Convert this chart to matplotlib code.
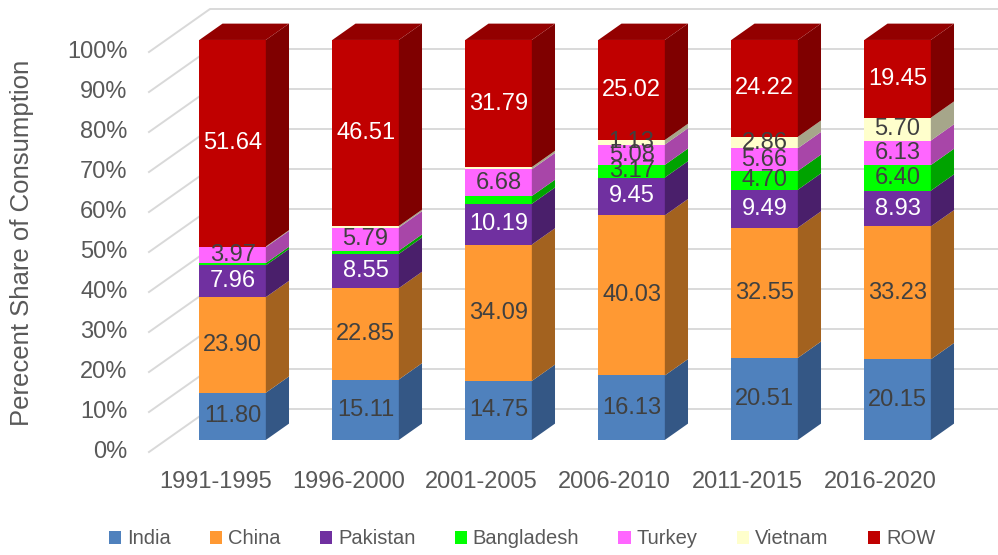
import numpy as np
import matplotlib
matplotlib.use("Agg")
import matplotlib.pyplot as plt
from matplotlib.patches import Polygon, Patch

plt.rcParams['font.family'] = ['Liberation Sans', 'DejaVu Sans']

periods = ['1991-1995', '1996-2000', '2001-2005', '2006-2010', '2011-2015', '2016-2020']
countries = ['India', 'China', 'Pakistan', 'Bangladesh', 'Turkey', 'Vietnam', 'ROW']

india = [11.80, 15.11, 14.75, 16.13, 20.51, 20.15]
china = [23.90, 22.85, 34.09, 40.03, 32.55, 33.23]
pakistan = [7.96, 8.55, 10.19, 9.45, 9.49, 8.93]
bangladesh = [0.55, 0.80, 1.95, 3.17, 4.70, 6.40]
turkey = [3.97, 5.79, 6.68, 5.08, 5.66, 6.13]
vietnam = [0.18, 0.39, 0.55, 1.13, 2.86, 5.70]
row = [51.64, 46.51, 31.79, 25.02, 24.22, 19.45]

# (series, period) pairs without a data label in the original
hidden_labels = [(3, 0), (3, 1), (3, 2), (5, 0), (5, 1), (5, 2)]

front_cols = ['#4F81BD', '#FF9933', '#7030A0', '#00FF00', '#FF66FF', '#FFFFCC', '#C00000']
side_cols = ['#345785', '#A3621F', '#4A1F6B', '#00A300', '#A846A8', '#A6A68A', '#7F0000']
top_col = '#930000'
label_cols = ['#404040', '#404040', 'white', '#404040', '#404040', '#404040', 'white']

series = [india, china, pakistan, bangladesh, turkey, vietnam, row]
data = np.array(series)
data = data / data.sum(axis=0) * 100  # 100% stacked

# oblique "3d" offsets (category units, percent units)
DX, DY = 0.4586, 10.75
Z0, Z1 = 0.28, 0.66
W = 0.5

def proj(x, v, z):
    return (x + z * DX, v + z * DY)

fig = plt.figure(figsize=(9.98, 5.55), dpi=100)
ax = fig.add_axes([0, 0, 1, 1])
ax.set_xlim(-149 / 133, (998 - 149) / 133)
ax.set_ylim(-25.75, 113)
ax.axis('off')

grid = '#D9D9D9'
for v in range(0, 101, 10):
    p0 = proj(0, v, 0)
    p1 = proj(0, v, 1)
    ax.plot([p0[0], p1[0], 10], [p0[1], p1[1], p1[1]], color=grid, lw=1.4, zorder=0)
    ax.text(-0.16, v, f'{v}%', ha='right', va='center', fontsize=17, color='#595959')

n = len(periods)
for i in range(n):
    x0 = i + 0.5 - W / 2
    x1 = i + 0.5 + W / 2
    bottom = 0
    for k in range(len(countries)):
        val = data[k, i]
        top = bottom + val
        # front face
        fx0, fb = proj(x0, bottom, Z0)
        fx1, ft = proj(x1, top, Z0)
        ax.add_patch(Polygon([(fx0, fb), (fx1, fb), (fx1, ft), (fx0, ft)],
                             closed=True, fc=front_cols[k], ec='none', zorder=2))
        # right side face
        side = [proj(x1, bottom, Z0), proj(x1, bottom, Z1), proj(x1, top, Z1), proj(x1, top, Z0)]
        ax.add_patch(Polygon(side, closed=True, fc=side_cols[k], ec='none', zorder=2))
        if k == len(countries) - 1:
            tp = [proj(x0, top, Z0), proj(x1, top, Z0), proj(x1, top, Z1), proj(x0, top, Z1)]
            ax.add_patch(Polygon(tp, closed=True, fc=top_col, ec='none', zorder=2))
        if (k, i) not in hidden_labels:
            cx, cy = proj((x0 + x1) / 2, (bottom + top) / 2, Z0)
            ax.text(cx, cy, f'{series[k][i]:.2f}', ha='center', va='center',
                    fontsize=17, color=label_cols[k], zorder=3)
        bottom = top
    ax.text(i + 0.5, -7.5, periods[i], ha='center', va='center', fontsize=17, color='#595959')

ax.text(-0.955, 52.25, 'Perecent Share of Consumption', rotation=90, ha='center', va='center',
        fontsize=18.5, color='#595959')

handles = [Patch(fc=c, ec='none') for c in front_cols]
fig.legend(handles, countries, loc='center', bbox_to_anchor=(0.523, 0.029), ncol=7,
           frameon=False, fontsize=14.5, handlelength=0.6, handleheight=0.6,
           handletextpad=0.3, columnspacing=1.95, labelcolor='#595959')

fig.savefig('out.png', dpi=100)
